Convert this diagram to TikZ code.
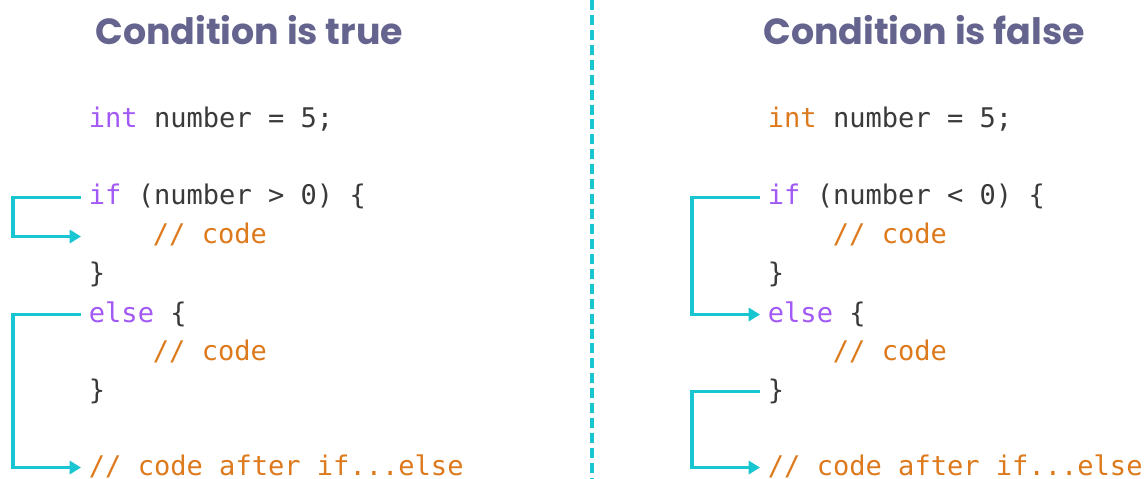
\documentclass[tikz,border=0pt]{standalone}
\usepackage{fontspec}
\usetikzlibrary{arrows.meta}
\newfontfamily\codefont{DejaVu Sans Mono}
\newfontfamily\headfont{Poppins}
\definecolor{keyword}{HTML}{A259F5}
\definecolor{comment}{HTML}{DE7A1E}
\definecolor{plain}{HTML}{3A3A3A}
\definecolor{flowcol}{HTML}{17C6D1}
\definecolor{headcol}{HTML}{64648F}
\newcommand{\kw}[1]{\textcolor{keyword}{#1}}
\newcommand{\cm}[1]{\textcolor{comment}{#1}}
\tikzset{
	code/.style={anchor=base west, inner sep=0pt, outer sep=4.5pt, text height=10pt, text depth=1.5pt, text=plain, font=\codefont\fontsize{15.4pt}{18pt}\selectfont},
	head/.style={anchor=base west, inner sep=0pt, text=headcol, font=\headfont\bfseries\fontsize{20.7pt}{25pt}\selectfont},
	flow/.style={draw=flowcol, line width=2pt, -{Triangle[length=6.5pt,width=7.5pt]}},
	divider/.style={draw=flowcol, line width=2pt, dash pattern=on 5.7pt off 2.8pt}
}
\begin{document}
\begin{tikzpicture}[x=0.02cm, y=-0.02cm]
		\fill[white] (0,0) rectangle (1145,479);
		\useasboundingbox (0,0) rectangle (1145,479);
		%divider
		\draw[divider] (592,0) -- (592,479);
		
		%condition is true
		\node[head] (headT) at (95, 45){Condition is true};
		\node[code] (intT) at (81, 128){\kw{int} number = 5;};
		\node[code] (ifT) at (81, 205){\kw{if} (number > 0) \{};
		\node[code] (codeT) at (145, 244){\cm{// code}};
		\node[code] (closeT) at (81, 283){\}};
		\node[code] (elseT) at (81, 322){\kw{else} \{};
		\node[code] (codeT2) at (145, 360){\cm{// code}};
		\node[code] (closeT2) at (81, 399){\}};
		\node[code] (afterT) at (81, 475){\cm{// code after if...else}};
		\draw[flow] (ifT.west) -- ++(-68,0) |- (ifT.west |- codeT.west);
		\draw[flow] (elseT.west) -- ++(-68,0) |- (afterT.west);
		
		%condition is false
		\node[head] (headF) at (763, 45){Condition is false};
		\node[code] (intF) at (760, 128){\cm{int} number = 5;};
		\node[code] (ifF) at (760, 205){\kw{if} (number < 0) \{};
		\node[code] (codeF) at (825, 244){\cm{// code}};
		\node[code] (closeF) at (760, 283){\}};
		\node[code] (elseF) at (760, 322){\kw{else} \{};
		\node[code] (codeF2) at (825, 360){\cm{// code}};
		\node[code] (closeF2) at (760, 399){\}};
		\node[code] (afterF) at (760, 475){\cm{// code after if...else}};
		\draw[flow] (ifF.west) -- ++(-68,0) |- (elseF.west);
		\draw[flow] (closeF2.west) -- ++(-68,0) |- (afterF.west);
\end{tikzpicture}
\end{document}
